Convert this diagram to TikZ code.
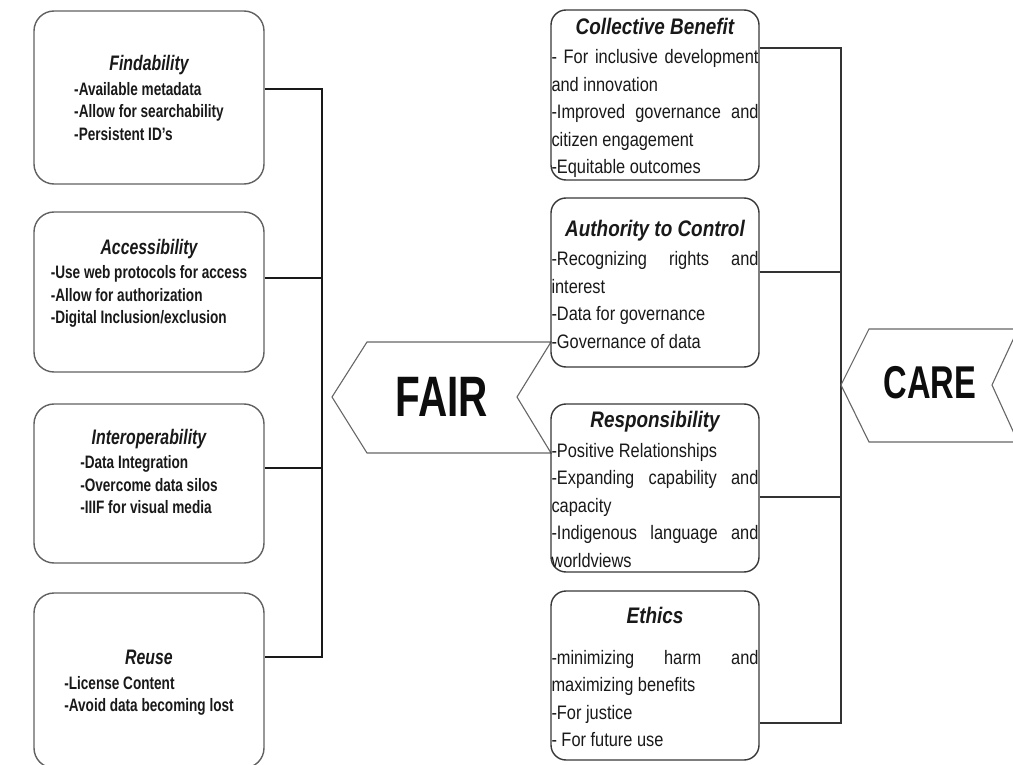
\documentclass[tikz,border=0pt]{standalone}
\usepackage{fontspec}
\setmainfont{Liberation Sans}
\newfontfamily\lfont[FakeStretch=0.755]{Liberation Sans}
\newfontfamily\rfont[FakeStretch=0.84]{Liberation Sans}
\newfontfamily\bigfont[FakeStretch=0.71]{Liberation Sans}
\setlength\parindent{0pt}
\newcommand\jline[1]{\makebox[\hsize][s]{#1}}
\newcommand\ctitle[1]{\makebox[\hsize][c]{\fontsize{22.5}{27.5}\selectfont\bfseries\itshape #1}}
\newcommand\ltitle[1]{{\fontsize{21}{22.5}\selectfont\bfseries\itshape #1}}
\begin{document}
\begin{tikzpicture}[x=1pt,y=-1pt,
  lbox/.style={draw=black!62, line width=1.4pt, rounded corners=20pt, minimum width=230pt, inner sep=0pt},
  ltxt/.style={align=center, inner sep=0pt, text=black!90, font=\lfont\bfseries\fontsize{18}{22.5}\selectfont},
  rbox/.style={draw=black!78, line width=1.4pt, rounded corners=15pt, minimum width=208pt, inner sep=0pt},
  rtxt/.style={text width=207pt, inner xsep=0.5pt, inner ysep=0pt, align=left, text=black!90,
    font=\rfont\fontsize{19.5}{27.5}\selectfont,
    execute at begin node={\spaceskip=0pt\xspaceskip=0pt\relax}},
  lconn/.style={draw=black!90, line width=2pt},
  rconn/.style={draw=black!80, line width=1.3pt},
  arrowshape/.style={draw=black!60, line width=1.1pt, line join=miter},
  bigtxt/.style={inner sep=0pt, text=black!95}
]
\useasboundingbox (0,0) rectangle (1013,765);
\clip (0,0) rectangle (1013,765);
\fill[white] (0,0) rectangle (1013,765);

% left boxes
\node[lbox, minimum height=173pt] (fb) at (149,97.5) {};
\node[lbox, minimum height=160pt] (ab) at (149,292) {};
\node[lbox, minimum height=159pt] (ib) at (149,483.5) {};
\node[lbox, minimum height=175pt] (rb) at (149,680.5) {};

\node[ltxt] (ftx) at (149,101.5) {\ltitle{Findability}\\[2pt]\begin{tabular}[t]{@{}l@{}}-Available metadata\\-Allow for searchability\\-Persistent ID’s\end{tabular}};
\node[ltxt] (atx) at (149,285) {\ltitle{Accessibility}\\[2pt]\begin{tabular}[t]{@{}l@{}}-Use web protocols for access\\-Allow for authorization\\-Digital Inclusion/exclusion\end{tabular}};
\node[ltxt] (itx) at (149,475) {\ltitle{Interoperability}\\[2pt]\begin{tabular}[t]{@{}l@{}}-Data Integration\\-Overcome data silos\\-IIIF for visual media\end{tabular}};
\node[ltxt] (rtx) at (149,684.5) {\ltitle{Reuse}\\[2pt]\begin{tabular}[t]{@{}l@{}}-License Content\\-Avoid data becoming lost\end{tabular}};

\coordinate (lt) at (322,89);
\coordinate (lb) at (322,657);
\draw[lconn] ([yshift=8.5pt]fb.east) -- (lt) -- (lb) -- ([yshift=23.5pt]rb.east);
\draw[lconn] ([yshift=14pt]ab.east) -- ++(58,0);
\draw[lconn] ([yshift=15.5pt]ib.east) -- ++(58,0);

% FAIR
\draw[arrowshape] (367,342) -- (551,342) -- (517,397) -- (551,453) -- (367,453) -- (332,397) -- cycle;
\node[bigtxt, font=\bigfont\bfseries\fontsize{57}{60}\selectfont] (fair) at (442,397) {FAIR};

% right boxes
\node[rbox, minimum height=170pt] (cb) at (655,95) {};
\node[rbox, minimum height=169pt] (ac) at (655,282.5) {};
\node[rbox, minimum height=168pt] (rs) at (655,488) {};
\node[rbox, minimum height=169pt] (et) at (655,675.5) {};

\node[rtxt] (cbt) at (655,98) {\ctitle{Collective Benefit}\\[2pt]\jline{- For inclusive development}\\and innovation\\\jline{-Improved governance and}\\citizen engagement\\-Equitable outcomes};
\node[rtxt] (act) at (655,284) {\ctitle{Authority to Control}\\[2pt]\jline{-Recognizing rights and}\\interest\\-Data for governance\\-Governance of data};
\node[rtxt] (rst) at (655,489.5) {\ctitle{Responsibility}\\[2pt]-Positive Relationships\\\jline{-Expanding capability and}\\capacity\\\jline{-Indigenous language and}\\worldviews};
\node[rtxt] (ett) at (655,677) {\ctitle{Ethics}\\[13pt]\jline{-minimizing harm and}\\maximizing benefits\\-For justice\\- For future use};

\coordinate (rt) at (841,48);
\coordinate (rbt) at (841,723);
\draw[rconn] ([yshift=47pt]cb.east) -- (rt) -- (rbt) -- ([yshift=-47.5pt]et.east);
\draw[rconn] ([yshift=10.5pt]ac.east) -- ++(82,0);
\draw[rconn] ([yshift=-9pt]rs.east) -- ++(82,0);

% CARE
\draw[arrowshape] (869,329) -- (1018,329) -- (992,385) -- (1018,442) -- (869,442) -- (841,385) -- cycle;
\node[bigtxt, font=\bigfont\bfseries\fontsize{46}{50}\selectfont] (care) at (930,383) {CARE};
\end{tikzpicture}
\end{document}
